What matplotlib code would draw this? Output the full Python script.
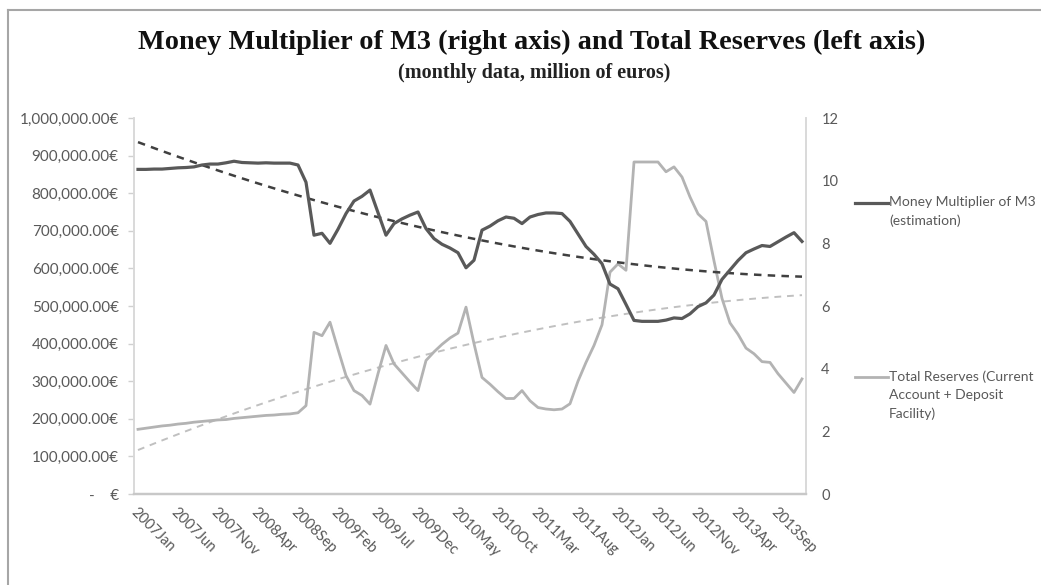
import numpy as np
import matplotlib
matplotlib.use("Agg")
import matplotlib.pyplot as plt
from matplotlib.lines import Line2D
from matplotlib.ticker import FuncFormatter, MultipleLocator

# ---------------- data ----------------
years = [2007, 2008, 2009, 2010, 2011, 2012, 2013]
month_names = ["Jan", "Feb", "Mar", "Apr", "May", "Jun",
               "Jul", "Aug", "Sep", "Oct", "Nov", "Dec"]
categories = [f"{y}{m}" for y in years for m in month_names]  # 2007Jan .. 2013Dec

# Money multiplier of M3 (right axis)
multiplier = [
    10.36, 10.36, 10.37, 10.37, 10.39, 10.41, 10.42, 10.44, 10.50, 10.53, 10.53, 10.57,  # 2007
    10.62, 10.58, 10.57, 10.56, 10.57, 10.56, 10.56, 10.56, 10.50, 9.95, 8.26, 8.32,     # 2008
    8.00, 8.45, 8.95, 9.35, 9.50, 9.70, 8.98, 8.26, 8.63, 8.78, 8.90, 9.00,              # 2009
    8.47, 8.15, 7.97, 7.85, 7.70, 7.22, 7.46, 8.42, 8.55, 8.72, 8.84, 8.80,              # 2010
    8.63, 8.84, 8.92, 8.97, 8.97, 8.95, 8.70, 8.30, 7.90, 7.65, 7.35, 6.70,              # 2011
    6.55, 6.05, 5.54, 5.51, 5.51, 5.51, 5.55, 5.62, 5.60, 5.75, 5.98, 6.10,              # 2012
    6.35, 6.85, 7.15, 7.45, 7.70, 7.82, 7.93, 7.90, 8.05, 8.20, 8.34, 8.06,              # 2013
]

# Total reserves (current account + deposit facility), left axis
reserves = [
    172000, 175000, 178000, 181000, 183000, 186000, 188000, 191000, 193000, 195000, 197000, 198000,  # 2007
    201000, 203000, 205000, 207000, 209000, 210000, 212000, 213000, 216000, 235000, 430000, 421000,  # 2008
    457000, 385000, 315000, 275000, 262000, 239000, 320000, 395000, 346000, 322000, 298000, 275000,  # 2009
    355000, 378000, 398000, 415000, 428000, 497000, 400000, 310000, 292000, 272000, 254000, 254000,  # 2010
    275000, 248000, 230000, 226000, 224000, 226000, 240000, 300000, 350000, 395000, 450000, 590000,  # 2011
    612000, 595000, 883000, 883000, 883000, 883000, 857000, 870000, 843000, 790000, 745000, 725000,  # 2012
    620000, 520000, 455000, 425000, 388000, 373000, 352000, 350000, 320000, 295000, 270000, 306000,  # 2013
]

tick_step = 5
trend_degree = 2
legend_mult = "Money Multiplier of M3\n(estimation)"
legend_res = "Total Reserves (Current\nAccount + Deposit\nFacility)"
title = "Money Multiplier of M3 (right axis) and Total Reserves (left axis)"
subtitle = "(monthly data, million of euros)"

# ---------------- figure ----------------
W, H = 1041, 585
fig = plt.figure(figsize=(W / 100, H / 100), dpi=100)
fig.patch.set_facecolor("white")

ax = fig.add_axes([134 / W, 1 - 494 / H, (806 - 134) / W, (494 - 118) / H])
ax2 = ax.twinx()

x = np.arange(len(categories))
xt = np.arange(1, len(categories) + 1)

c_dark = "#595959"
c_light = "#b3b3b3"
c_text = "#595959"

# reserves on left axis
ax.plot(x, reserves, color=c_light, lw=2.0, solid_joinstyle="round", zorder=3)
pr = np.polyfit(xt, np.array(reserves, float), trend_degree)
ax.plot(x, np.polyval(pr, xt), color="#c0c0c0", lw=1.4, ls=(0, (3.5, 3)), zorder=2)

# multiplier on right axis
ax2.plot(x, multiplier, color=c_dark, lw=2.3, solid_joinstyle="round", zorder=3)
pm = np.polyfit(xt, np.array(multiplier, float), trend_degree)
ax2.plot(x, np.polyval(pm, xt), color="#404040", lw=1.8, ls=(0, (3, 2.5)), zorder=2)

ax.set_xlim(-0.5, len(categories) - 0.5)
ax.set_ylim(0, 1_000_000)
ax2.set_ylim(0, 12)
ax.yaxis.set_major_locator(MultipleLocator(100_000))
ax2.yaxis.set_major_locator(MultipleLocator(2))


def eur(v, pos):
    if abs(v) < 1e-6:
        return "-    €"
    return f"{v:,.2f}€"


ax.yaxis.set_major_formatter(FuncFormatter(eur))

font = "Lato"
ax.set_xticks(x[::tick_step])
ax.set_xticklabels(categories[::tick_step], rotation=-45, ha="left", va="top",
                   rotation_mode="anchor", fontsize=10.5, color=c_text, family=font)
ax.tick_params(axis="x", length=0, pad=8)
ax.tick_params(axis="y", length=4, width=1, color="#d0d0d0", pad=7,
               labelsize=11, labelcolor=c_text)
for t in ax.get_yticklabels():
    t.set_family(font)
ax2.tick_params(axis="y", length=0, pad=11, labelsize=10.5, labelcolor=c_text)
for t in ax2.get_yticklabels():
    t.set_family(font)

for a in (ax, ax2):
    a.spines["top"].set_visible(False)
    a.spines["left"].set_color("#d9d9d9")
    a.spines["right"].set_color("#d9d9d9")
    a.spines["bottom"].set_color("#c8c8c8")
    a.spines["left"].set_linewidth(1.2)
    a.spines["right"].set_linewidth(1.2)
    a.spines["bottom"].set_linewidth(1.6)
ax.set_facecolor("none")
ax2.set_zorder(ax.get_zorder() + 1)
ax2.patch.set_visible(False)

# titles
fig.text(532 / W, 1 - 42 / H, title, ha="center", va="center",
         family="Liberation Serif", fontweight="bold", fontsize=20.3, color="#111111")
fig.text(534 / W, 1 - 73 / H, subtitle, ha="center", va="center",
         family="Liberation Serif", fontweight="bold", fontsize=14.5, color="#222222")

# legend (drawn at the right, as in the reference)
fig.add_artist(Line2D([855 / W, 888 / W], [1 - 203 / H, 1 - 203 / H],
                      color=c_dark, lw=2.3, transform=fig.transFigure))
fig.text(889 / W, 1 - 196 / H, legend_mult, ha="left", va="top", fontsize=10,
         color=c_text, family=font, linespacing=1.62)
fig.add_artist(Line2D([855 / W, 888 / W], [1 - 377 / H, 1 - 377 / H],
                      color=c_light, lw=2.0, transform=fig.transFigure))
fig.text(889 / W, 1 - 370 / H, legend_res, ha="left", va="top", fontsize=10,
         color=c_text, family=font, linespacing=1.62)

# outer chart border (top and left edges visible)
fig.add_artist(Line2D([8 / W, 1], [1 - 10 / H, 1 - 10 / H], color="#a6a6a6", lw=1.5,
                      transform=fig.transFigure))
fig.add_artist(Line2D([8 / W, 8 / W], [0, 1 - 10 / H], color="#a6a6a6", lw=1.5,
                      transform=fig.transFigure))

fig.savefig("out.png", dpi=100, facecolor="white")
